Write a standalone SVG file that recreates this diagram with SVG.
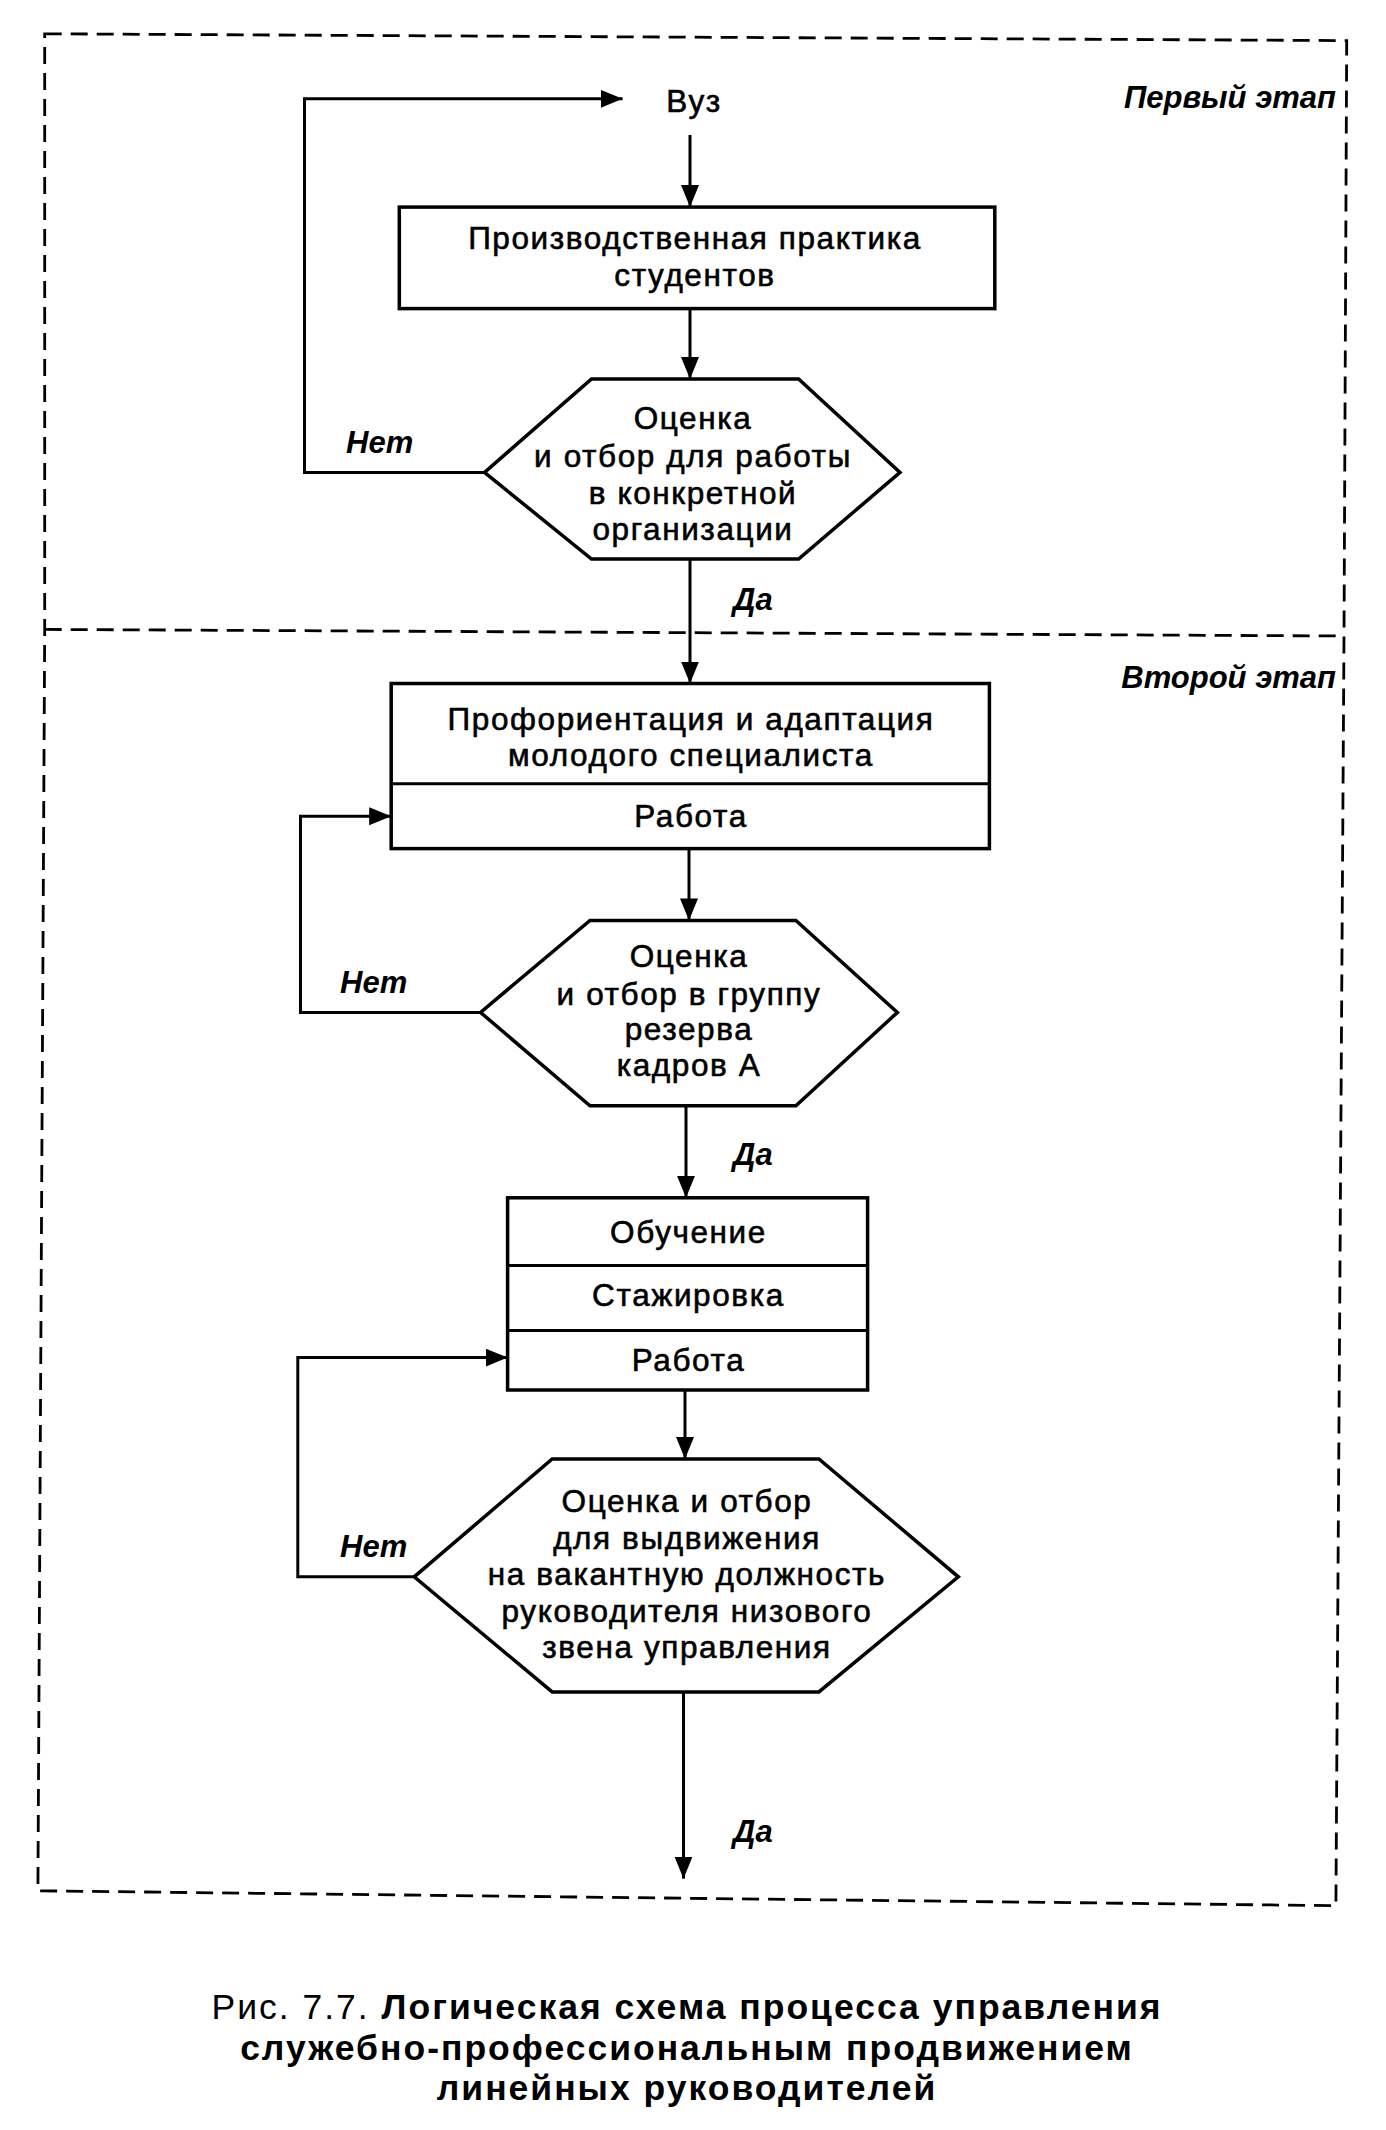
<svg xmlns="http://www.w3.org/2000/svg" width="1386" height="2130" viewBox="0 0 1386 2130">
<style>
.t{font-family:"Liberation Sans",Arial,sans-serif;font-size:31.5px;letter-spacing:1.6px;fill:#000;stroke:#000;stroke-width:0.6;text-anchor:middle}
.i{font-family:"Liberation Sans",Arial,sans-serif;font-size:31px;font-style:italic;font-weight:bold;fill:#000}
.c{font-family:"Liberation Sans",Arial,sans-serif;font-size:35.5px;letter-spacing:2px;fill:#000;text-anchor:middle}
.n{fill:#fff;stroke:#000;stroke-width:3.5}
.l{fill:none;stroke:#000;stroke-width:3}
.d{fill:none;stroke:#000;stroke-width:2.8;stroke-dasharray:17 9}
</style>
<defs>
<marker id="a" markerUnits="userSpaceOnUse" markerWidth="24" markerHeight="20" refX="22" refY="9" orient="auto">
<path d="M0,0 L22,9 L0,18 Z" fill="#000"/>
</marker>
</defs>
<rect width="1386" height="2130" fill="#fff"/>
<g id="frame">
<path class="d" d="M44.7,33.8 L1346.7,40.6 L1344,636 L1335.9,1905.7 L37.9,1890.8 L44.7,629.4 Z"/>
<path class="d" d="M44.7,629.4 L1344,636"/>
<text class="i" x="1336" y="108" text-anchor="end">Первый этап</text>
<text class="i" x="1336" y="688" text-anchor="end">Второй этап</text>
</g>
<g id="connectors">
<path class="l" d="M690,135 L690,207" marker-end="url(#a)"/>
<path class="l" d="M690,308.6 L690,379" marker-end="url(#a)"/>
<path class="l" d="M484.5,472.4 L304.5,472.4 L304.5,98.8 L622.6,98.8" marker-end="url(#a)"/>
<path class="l" d="M690,559 L690,683.5" marker-end="url(#a)"/>
<path class="l" d="M689,848.6 L689,920.4" marker-end="url(#a)"/>
<path class="l" d="M480.5,1012.4 L300.5,1012.4 L300.5,816.2 L391.2,816.2" marker-end="url(#a)"/>
<path class="l" d="M686,1105.8 L686,1197.8" marker-end="url(#a)"/>
<path class="l" d="M685,1390 L685,1459" marker-end="url(#a)"/>
<path class="l" d="M414.2,1576.8 L297.8,1576.8 L297.8,1357.6 L507.6,1357.6" marker-end="url(#a)"/>
<path class="l" d="M683.5,1691.9 L683.5,1878.7" marker-end="url(#a)"/>
<text class="i" x="346" y="453">Нет</text>
<text class="i" x="733" y="610">Да</text>
<text class="i" x="340" y="993">Нет</text>
<text class="i" x="733" y="1165">Да</text>
<text class="i" x="340" y="1557">Нет</text>
<text class="i" x="733" y="1842">Да</text>
</g>
<g id="vuz">
<text class="t" x="694" y="112">Вуз</text>
</g>
<g id="practice">
<rect class="n" x="399.3" y="207.1" width="595.5" height="101.5"/>
<text class="t" x="695" y="249">Производственная практика</text>
<text class="t" x="695" y="285.5">студентов</text>
</g>
<g id="decision1">
<polygon class="n" points="591.5,379 798.6,379 900,472.4 798.6,559 591.5,559 484.5,472.4"/>
<text class="t" x="693" y="429">Оценка</text>
<text class="t" x="693" y="467">и отбор для работы</text>
<text class="t" x="693" y="503.5">в конкретной</text>
<text class="t" x="693" y="540">организации</text>
</g>
<g id="adaptation">
<rect class="n" x="391.2" y="683.5" width="598.2" height="165.1"/>
<path class="l" d="M391.2,783.7 L989.4,783.7" stroke-width="3.5"/>
<text class="t" x="691" y="729.5">Профориентация и адаптация</text>
<text class="t" x="691" y="766">молодого специалиста</text>
<text class="t" x="691" y="827">Работа</text>
</g>
<g id="decision2">
<polygon class="n" points="590,920.4 795.9,920.4 897.4,1012.4 795.9,1105.8 590,1105.8 480.5,1012.4"/>
<text class="t" x="689" y="966.5">Оценка</text>
<text class="t" x="689" y="1004.5">и отбор в группу</text>
<text class="t" x="689" y="1039.5">резерва</text>
<text class="t" x="689" y="1076">кадров А</text>
</g>
<g id="training">
<rect class="n" x="507.6" y="1197.8" width="360" height="192.2"/>
<path class="l" d="M507.6,1265.5 L867.6,1265.5 M507.6,1330.5 L867.6,1330.5" stroke-width="3.5"/>
<text class="t" x="688.5" y="1242.5">Обучение</text>
<text class="t" x="688.5" y="1306">Стажировка</text>
<text class="t" x="688.5" y="1371">Работа</text>
</g>
<g id="decision3">
<polygon class="n" points="552.2,1459 818.9,1459 958.3,1576.8 818.9,1691.9 552.2,1691.9 414.2,1576.8"/>
<text class="t" x="687" y="1512">Оценка и отбор</text>
<text class="t" x="687" y="1548.5">для выдвижения</text>
<text class="t" x="687" y="1585">на вакантную должность</text>
<text class="t" x="687" y="1621.5">руководителя низового</text>
<text class="t" x="687" y="1658">звена управления</text>
</g>
<g id="caption">
<text class="c" x="687" y="2019">Рис. 7.7. <tspan font-weight="bold">Логическая схема процесса управления</tspan></text>
<text class="c" x="687" y="2060" font-weight="bold">служебно-профессиональным продвижением</text>
<text class="c" x="687" y="2100" font-weight="bold">линейных руководителей</text>
</g>
</svg>
